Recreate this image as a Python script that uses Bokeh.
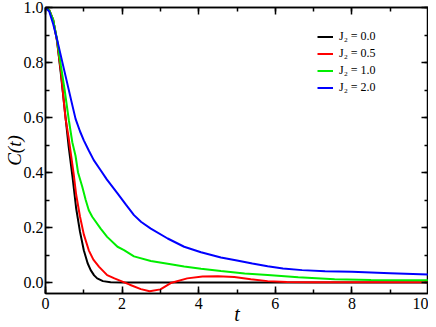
from bokeh.plotting import figure
from bokeh.models import Range1d, SingleIntervalTicker, LinearAxis, PrintfTickFormatter
from bokeh.embed import file_html
from bokeh.resources import INLINE

# ---- data ----
t_j0 = [0, 0.1, 0.2, 0.3, 0.4, 0.5, 0.6, 0.7, 0.8, 0.9, 1.0, 1.1, 1.18, 1.27, 1.35, 1.5, 1.7, 2.0,
        3, 4, 5, 6, 7, 8, 9, 10]
c_j0 = [1, 0.99, 0.955, 0.88, 0.76, 0.63, 0.5, 0.39, 0.27, 0.185, 0.117, 0.07, 0.045, 0.026, 0.015, 0.005, 0.001, 0,
        0, 0, 0, 0, 0, 0, 0, 0]

t_j05 = [0, 0.1, 0.2, 0.3, 0.4, 0.52, 0.6, 0.65, 0.74, 0.8, 0.9, 1.0, 1.13, 1.25, 1.4, 1.61, 1.8, 1.96, 2.2, 2.49,
         2.72, 3.0, 3.27, 3.7, 4.1, 4.5, 4.93, 5.36, 5.8, 6.3, 7, 8, 9, 10]
c_j05 = [1, 0.99, 0.955, 0.88, 0.77, 0.6, 0.53, 0.48, 0.39, 0.32, 0.24, 0.175, 0.117, 0.083, 0.057, 0.027, 0.015,
         0.006, -0.008, -0.024, -0.032, -0.025, -0.002, 0.015, 0.022, 0.023, 0.02, 0.012, 0.005, 0.002, 0.001, 0.001,
         0.001, 0.001]

t_j1 = [0, 0.1, 0.2, 0.3, 0.4, 0.5, 0.61, 0.7, 0.785, 0.85, 0.96, 1.05, 1.13, 1.22, 1.44, 1.61, 1.88, 2.05, 2.31,
        2.75, 3.19, 3.62, 4.06, 4.58, 5.2, 5.8, 6.6, 7.55, 8.5, 10]
c_j1 = [1, 0.99, 0.955, 0.885, 0.79, 0.7, 0.59, 0.51, 0.46, 0.4, 0.348, 0.3, 0.263, 0.239, 0.196, 0.166, 0.13,
        0.118, 0.095, 0.078, 0.068, 0.058, 0.05, 0.042, 0.033, 0.027, 0.019, 0.012, 0.009, 0.008]

t_j2 = [0, 0.1, 0.2, 0.3, 0.4, 0.5, 0.6, 0.7, 0.785, 0.9, 1.0, 1.13, 1.26, 1.44, 1.6, 1.88, 2.1, 2.31, 2.5, 2.75,
        3.19, 3.62, 4.06, 4.58, 5.0, 5.4, 5.8, 6.2, 6.7, 7.3, 8.0, 9.0, 10.0]
c_j2 = [1, 0.985, 0.94, 0.885, 0.825, 0.765, 0.705, 0.645, 0.595, 0.55, 0.517, 0.48, 0.445, 0.408, 0.375, 0.324,
        0.283, 0.245, 0.22, 0.196, 0.16, 0.13, 0.11, 0.091, 0.08, 0.069, 0.059, 0.051, 0.045, 0.041, 0.039, 0.034,
        0.029]

series_labels = ["J\u2082 = 0.0", "J\u2082 = 0.5", "J\u2082 = 1.0", "J\u2082 = 2.0"]
series_colors = ["#000000", "#ff0000", "#00ee00", "#0000ff"]

FONT = "Liberation Serif"

p = figure(frame_width=383, frame_height=286, output_backend="svg", toolbar_location=None,
           x_range=Range1d(0, 10), y_range=Range1d(-0.04, 1.0),
           min_border_left=45, min_border_right=0, min_border_top=7, min_border_bottom=0)
p.xgrid.visible = False
p.ygrid.visible = False
p.outline_line_color = "black"
p.outline_line_width = 1.5
p.background_fill_color = "white"
p.border_fill_color = "white"

for tt, cc, lab, col in zip([t_j0, t_j05, t_j1, t_j2], [c_j0, c_j05, c_j1, c_j2], series_labels, series_colors):
    p.line(tt, cc, line_color=col, line_width=2, legend_label=lab)

def style(ax, labels=True):
    ax.axis_line_width = 1.5
    ax.axis_line_color = "black"
    ax.major_tick_in = 7
    ax.major_tick_out = 0
    ax.minor_tick_in = 4
    ax.minor_tick_out = 0
    ax.major_tick_line_width = 1.5
    ax.minor_tick_line_width = 1.5
    ax.major_tick_line_color = "black"
    ax.minor_tick_line_color = "black"
    ax.major_label_text_font = FONT
    ax.major_label_text_color = "black"
    if labels:
        ax.major_label_text_font_size = "16px"
    else:
        ax.major_label_text_font_size = "0px"
        ax.major_label_standoff = 0

p.xaxis.ticker = SingleIntervalTicker(interval=2, num_minor_ticks=2)
p.yaxis.ticker = SingleIntervalTicker(interval=0.2, num_minor_ticks=2)
p.yaxis.formatter = PrintfTickFormatter(format="%.1f")
style(p.xaxis[0])
style(p.yaxis[0])
p.xaxis.major_label_standoff = 4
p.yaxis.major_label_standoff = 2

p.xaxis.axis_label = "t"
p.xaxis.axis_label_text_font = FONT
p.xaxis.axis_label_text_font_style = "italic"
p.xaxis.axis_label_text_font_size = "20px"
p.xaxis.axis_label_text_color = "black"
p.xaxis.axis_label_standoff = -9

p.yaxis.axis_label = "C(t)"
p.yaxis.axis_label_text_font = FONT
p.yaxis.axis_label_text_font_style = "italic"
p.yaxis.axis_label_text_font_size = "19px"
p.yaxis.axis_label_text_color = "black"
p.yaxis.axis_label_standoff = -4

top = LinearAxis(ticker=SingleIntervalTicker(interval=2, num_minor_ticks=2))
right = LinearAxis(ticker=SingleIntervalTicker(interval=0.2, num_minor_ticks=2))
style(top, False)
style(right, False)
p.add_layout(top, "above")
p.add_layout(right, "right")

lg = p.legend[0]
lg.location = (272, 197)
lg.padding = 0
lg.margin = 0
lg.spacing = 0
lg.label_height = 17
lg.glyph_height = 17
lg.glyph_width = 16
lg.label_standoff = 6
lg.border_line_alpha = 0
lg.background_fill_alpha = 0
lg.label_text_font = FONT
lg.label_text_font_size = "12px"
lg.label_text_color = "black"

open("out.html", "w").write(file_html(p, INLINE))
